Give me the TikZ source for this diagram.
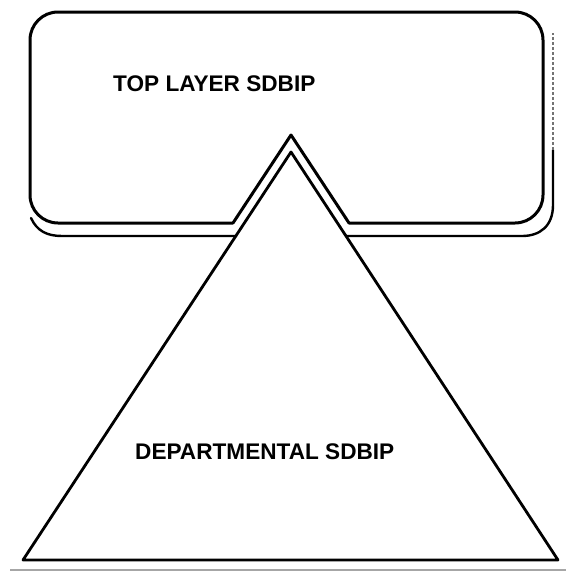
\documentclass[tikz,border=0pt]{standalone}
\usepackage{fontspec}
\setmainfont{Liberation Sans}
\begin{document}
\begin{tikzpicture}[x=1pt,y=-1pt,
  outline/.style={draw=black,line width=3pt,line join=round,line cap=round},
  shadowline/.style={draw=black,line width=2.4pt,line cap=round},
  faintshadow/.style={draw=black!55,line width=1.2pt,dash pattern=on 3pt off 2pt},
  scanline/.style={draw=black!35,line width=1.6pt},
  label/.style={font=\bfseries\fontsize{22.6}{26}\selectfont,inner sep=0pt,anchor=base west}]
\useasboundingbox (0,0) rectangle (566,573);
% triangle vertices
\coordinate (apex) at (291,152);
\coordinate (bl) at (23,560);
\coordinate (br) at (558,560);
% outer apex of the top box outline
\coordinate (oapex) at (291,135);
\coordinate (ol) at (233,223);
\coordinate (or) at (349,223);
% top box outline wrapping around apex
\draw[outline] (ol) -- (58,223) arc[start angle=90,end angle=180,radius=28]
  -- (30,40) arc[start angle=180,end angle=270,radius=28]
  -- (515,12) arc[start angle=270,end angle=360,radius=28]
  -- (543,195) arc[start angle=0,end angle=90,radius=28]
  -- (or) -- (oapex) -- (ol);
% shadow lines
\coordinate (sl) at (236,236);
\coordinate (sr) at (346,236);
\draw[shadowline] (31,218) .. controls (37,231) and (47,236) .. (62,236) -- (sl);
\draw[shadowline] (sr) -- (522,236) .. controls (540,236) and (553,226) .. (553,205) -- (553,150);
\draw[faintshadow] (553,150) -- (553,33);
% triangle
\draw[outline,line width=2.8pt] (apex) -- (bl) -- (br) -- cycle;
% scan line below
\draw[scanline] (10,570) -- (566,570);
% labels
\node[label] (top) at (113,91) {TOP LAYER SDBIP};
\node[label] (dep) at (135,459) {DEPARTMENTAL SDBIP};
\end{tikzpicture}
\end{document}
